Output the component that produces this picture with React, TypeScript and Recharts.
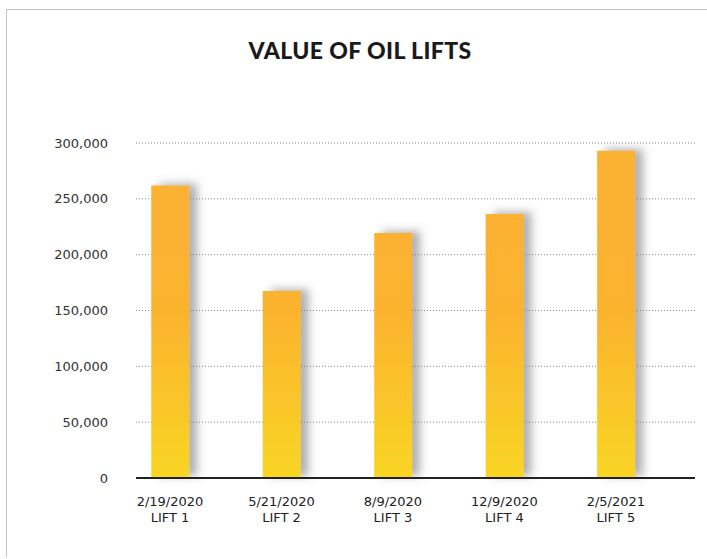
import { BarChart, Bar, XAxis, YAxis, CartesianGrid } from "recharts"

const dates = ["2/19/2020", "5/21/2020", "8/9/2020", "12/9/2020", "2/5/2021"]
const lifts = ["LIFT 1", "LIFT 2", "LIFT 3", "LIFT 4", "LIFT 5"]
const values = [262000, 167500, 219500, 236500, 293000]
const yTicks = [0, 50000, 100000, 150000, 200000, 250000, 300000]

const data = values.map((v, i) => ({ idx: i, value: v }))

const FONT = "'DejaVu Sans', sans-serif"

function LiftTick({ x, y, payload }: any) {
  const i = payload.value
  return (
    <g transform={`translate(${x},${y})`}>
      <text textAnchor="middle" fill="#222" fontSize={13} fontFamily={FONT}>
        <tspan x={0} dy={20}>{dates[i]}</tspan>
        <tspan x={0} dy={16}>{lifts[i]}</tspan>
      </text>
    </g>
  )
}

export default function App() {
  return (
    <div style={{ position: "absolute", left: 0, top: 0, width: 707, height: 559, background: "#fff" }}>
      <div
        style={{
          position: "absolute",
          left: 6,
          top: 9,
          right: 0,
          bottom: 2,
          borderTop: "1.5px solid #c4c4c4",
          borderLeft: "1.5px solid #c4c4c4",
        }}
      />
      <div
        style={{
          position: "absolute",
          left: 0,
          width: 720,
          top: 36,
          textAlign: "center",
          fontFamily: "Lato, sans-serif",
          fontWeight: 900,
          fontSize: 23,
          letterSpacing: 0.4,
          color: "#1a1a1a",
        }}
      >
        VALUE OF OIL LIFTS
      </div>
      <div style={{ position: "absolute", left: 0, top: 0 }}>
        <BarChart width={707} height={559} data={data} margin={{ top: 143, right: 12, bottom: 21, left: 0 }}>
          <defs>
            <linearGradient id="barFill" gradientUnits="userSpaceOnUse" x1="0" y1="143" x2="0" y2="478">
              <stop offset="0" stopColor="#FBB132" />
              <stop offset="0.5" stopColor="#FBB32F" />
              <stop offset="1" stopColor="#F9D524" />
            </linearGradient>
            <filter id="barShadow" x="-50%" y="-20%" width="200%" height="140%">
              <feDropShadow dx={8} dy={-2} stdDeviation={4} floodColor="#666" floodOpacity={0.5} />
            </filter>
          </defs>
          <CartesianGrid vertical={false} stroke="#8a8a8a" strokeDasharray="1 2" />
          <XAxis
            dataKey="idx"
            type="number"
            domain={[-0.305, 4.71]}
            ticks={[0, 1, 2, 3, 4]}
            allowDataOverflow
            interval={0}
            height={60}
            tickLine={false}
            axisLine={{ stroke: "#222", strokeWidth: 2 }}
            tick={<LiftTick />}
          />
          <YAxis
            domain={[0, 300000]}
            ticks={yTicks}
            width={136}
            axisLine={false}
            tickLine={false}
            tickSize={0}
            tickMargin={28}
            tick={{ fill: "#333", fontSize: 13, fontFamily: FONT }}
            tickFormatter={(v: number) => v.toLocaleString("en-US")}
          />
          <Bar dataKey="value" barSize={38} fill="url(#barFill)" filter="url(#barShadow)" isAnimationActive={false} />
        </BarChart>
      </div>
    </div>
  )
}
